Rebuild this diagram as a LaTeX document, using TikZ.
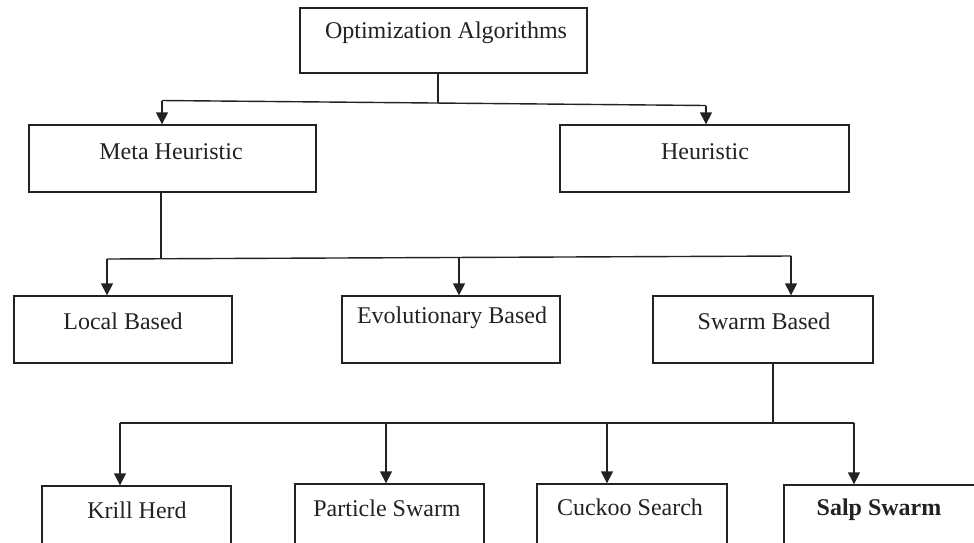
\documentclass[tikz,border=0pt]{standalone}
\usepackage{fontspec}
\setmainfont{Liberation Serif}
\usetikzlibrary{arrows.meta}
\definecolor{ink}{HTML}{222222}
\tikzset{
  box/.style={draw=ink, line width=1.4pt, rectangle, minimum width=#1, inner sep=0pt},
  boxh/.style={minimum height=#1},
  txt/.style={text=ink, inner sep=0pt, font=\fontsize{24}{28}\selectfont},
  link/.style={draw=ink, line width=1.4pt},
  arr/.style={draw=ink, line width=1.4pt, -{Triangle[length=12pt,width=12pt]}},
}
\begin{document}
\begin{tikzpicture}[x=1pt,y=-1pt]
\useasboundingbox (0,0) rectangle (974,542);
\clip (0,0) rectangle (974,542);
\fill[white] (0,0) rectangle (974,542);

% boxes
\node[box=287pt, boxh=65pt] (opt) at (443.5,40.5) {};
\node[box=287pt, boxh=67pt] (meta) at (172.5,158.5) {};
\node[box=289pt, boxh=67pt] (heur) at (704.5,158.5) {};
\node[box=218pt, boxh=67pt] (local) at (123,329.5) {};
\node[box=218pt, boxh=67pt] (evo) at (451,329.5) {};
\node[box=220pt, boxh=67pt] (swarm) at (763,329.5) {};
\node[box=189pt, boxh=90pt] (krill) at (136.5,531) {};
\node[box=189pt, boxh=92pt] (particle) at (389.5,530) {};
\node[box=190pt, boxh=92pt] (cuckoo) at (632,530) {};
\node[box=206pt, boxh=92pt] (salp) at (887,531) {};

% texts
\node[txt] (optT) at (446,33) {Optimization Algorithms};
\node[txt] (metaT) at (171,152) {Meta Heuristic};
\node[txt] (heurT) at (705,152) {Heuristic};
\node[txt] (localT) at (123,321) {Local Based};
\node[txt] (evoT) at (452,318) {Evolutionary Based};
\node[txt] (swarmT) at (764,321) {Swarm Based};
\node[txt] (krillT) at (137,510) {Krill Herd};
\node[txt] (particleT) at (387,508) {Particle Swarm};
\node[txt] (cuckooT) at (630,507) {Cuckoo Search};
\node[txt, font=\fontsize{24}{28}\selectfont\bfseries] (salpT) at (879,510) {Salp Swarm};

% level 1 connectors
\coordinate (j1) at (438,103);
\coordinate (l1) at (162,100.5);
\coordinate (r1) at (706,105.5);
\draw[link] (j1 |- opt.south) -- (j1);
\draw[link] (l1) -- (r1);
\draw[arr] (l1) -- (l1 |- meta.north);
\draw[arr] (r1) -- (r1 |- heur.north);

% level 2 connectors
\coordinate (j2) at (161,258.5);
\coordinate (l2) at (107,259);
\coordinate (m2) at (459,258);
\coordinate (r2) at (791,256);
\draw[link] (j2 |- meta.south) -- (j2);
\draw[link] (l2) -- (r2);
\draw[arr] (l2) -- (l2 |- local.north);
\draw[arr] (m2) -- (m2 |- evo.north);
\draw[arr] (r2) -- (r2 |- swarm.north);

% level 3 connectors
\coordinate (j3) at (773,423);
\coordinate (a3) at (120,423);
\coordinate (b3) at (386,423);
\coordinate (c3) at (607,423);
\coordinate (d3) at (854,423);
\draw[link] (j3 |- swarm.south) -- (j3);
\draw[link] (a3) -- (d3);
\draw[arr] (a3) -- (a3 |- krill.north);
\draw[arr] (b3) -- (b3 |- particle.north);
\draw[arr] (c3) -- (c3 |- cuckoo.north);
\draw[arr] (d3) -- (d3 |- salp.north);
\end{tikzpicture}
\end{document}
